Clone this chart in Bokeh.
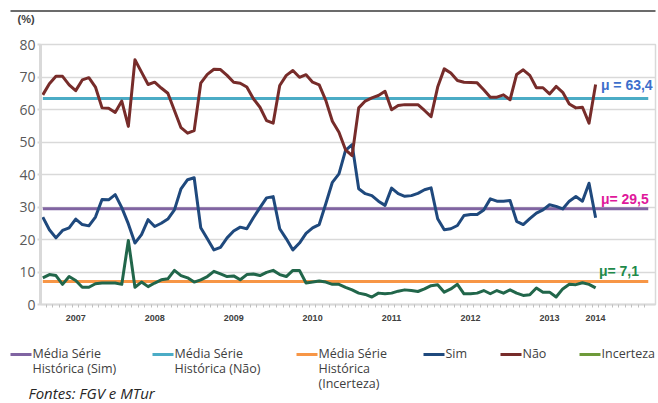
from bokeh.plotting import figure
from bokeh.models import Range1d, FixedTicker, Label
from bokeh.core.properties import value
from bokeh.layouts import column
from bokeh.embed import file_html
from bokeh.resources import INLINE

# ---------------- data ----------------
months = list(range(85))          # monthly observations (index)
axis_months = list(range(93))     # category slots on the axis
sim = [26.9, 23.0, 20.5, 22.8, 23.6, 26.3, 24.6, 24.2, 26.9, 32.3,
       32.2, 33.8, 29.8, 24.8, 18.9, 21.5, 26.1, 24.0, 25.0, 26.3,
       29.1, 35.6, 38.4, 39.0, 23.6, 20.2, 16.8, 17.6, 20.5, 22.6,
       23.8, 23.3, 26.7, 29.8, 32.8, 33.2, 23.3, 20.2, 16.8, 18.9,
       21.9, 23.6, 24.6, 31.0, 37.6, 40.2, 47.4, 49.2, 35.6, 34.1,
       33.5, 31.8, 30.5, 35.8, 34.1, 33.3, 33.5, 34.2, 35.3, 35.9,
       26.4, 23.0, 23.3, 24.3, 27.4, 27.7, 27.7, 29.1, 32.5, 31.8,
       31.8, 32.0, 25.6, 24.6, 26.4, 28.1, 29.1, 30.7, 30.2, 29.4,
       31.8, 33.2, 31.8, 37.3, 26.7]
nao = [64.5, 67.9, 70.2, 70.2, 67.6, 65.8, 69.1, 69.8, 66.9, 60.5,
       60.4, 59.1, 62.6, 54.8, 75.3, 71.5, 67.7, 68.4, 66.6, 65.0,
       59.7, 54.4, 52.7, 53.5, 68.1, 70.8, 72.4, 72.3, 70.5, 68.4,
       68.1, 66.9, 63.3, 60.7, 56.6, 55.8, 67.4, 70.5, 72.0, 69.9,
       70.7, 68.4, 67.6, 62.8, 56.4, 53.0, 47.6, 45.8, 60.5, 62.6,
       63.6, 64.3, 65.6, 59.9, 61.2, 61.5, 61.5, 61.5, 59.7, 57.8,
       66.9, 72.5, 71.2, 68.9, 68.4, 68.3, 68.2, 66.1, 63.8, 63.8,
       64.5, 63.0, 70.8, 72.2, 70.5, 66.7, 66.7, 64.8, 67.1, 65.3,
       61.7, 60.5, 60.7, 55.8, 67.7]
incerteza = [8.2, 9.2, 8.9, 6.2, 8.6, 7.4, 5.3, 5.3, 6.4, 6.6,
             6.6, 6.6, 6.2, 19.7, 5.3, 6.9, 5.5, 6.6, 7.6, 7.9,
             10.5, 8.9, 8.2, 6.9, 7.6, 8.6, 10.2, 9.4, 8.6, 8.8,
             7.6, 9.2, 9.4, 8.9, 9.9, 10.5, 9.2, 8.6, 10.5, 10.5,
             6.6, 6.9, 7.2, 6.9, 6.2, 6.2, 5.3, 4.5, 3.5, 3.1,
             2.3, 3.5, 3.3, 3.5, 4.1, 4.5, 4.3, 4.0, 4.8, 5.8,
             6.1, 3.8, 4.8, 6.2, 3.3, 3.3, 3.5, 4.3, 3.3, 4.3,
             3.5, 4.5, 3.5, 2.8, 3.0, 5.1, 3.8, 3.8, 2.3, 4.8,
             6.2, 6.1, 6.7, 6.2, 5.1]
media_sim = 29.5
media_nao = 63.4
media_inc = 7.1
year_labels = ["2007", "2008", "2009", "2010", "2011", "2012", "2013", "2014"]
year_label_month = [5, 17, 29, 41, 53, 65, 77, 84]
y_ticks = [0, 10, 20, 30, 40, 50, 60, 70, 80]
legend_labels = ["Média Série\nHistórica (Sim)", "Média Série\nHistórica (Não)",
                 "Média Série\nHistórica\n(Incerteza)", "Sim", "Não", "Incerteza"]

# ---------------- colours ----------------
C_SIM = "#1F497D"
C_NAO = "#772C2A"
C_INC = "#21664A"
C_INC_LEG = "#6E9A3A"
C_MSIM = "#8064A2"
C_MNAO = "#4BACC6"
C_MINC = "#F79646"
GRID = "#D9D9D9"
TXT = "#595959"

W = 658
TH = 30   # header strip
PH = 300  # main plot
LH = 73   # legend strip


def strip(h):
    f = figure(width=W, height=h, output_backend="svg", toolbar_location=None,
               x_range=Range1d(0, W), y_range=Range1d(h, 0),
               x_axis_type=None, y_axis_type=None, min_border=0)
    f.outline_line_color = None
    f.grid.visible = False
    f.background_fill_color = "white"
    f.border_fill_color = "white"
    f.frame_align = False
    return f


# ---------------- header: rule + unit ----------------
top = strip(TH)
top.line([10, 655], [10.5, 10.5], line_color="#6B6B6B", line_width=2)
top.add_layout(Label(x=17, y=18, text="(%)", text_color="#404040",
                     text_font="Liberation Sans", text_font_style="bold",
                     text_font_size="11px", text_baseline="middle"))

# ---------------- main chart ----------------
p = figure(width=W, height=PH, output_backend="svg", toolbar_location=None,
           x_range=Range1d(-0.35, 93.1), y_range=Range1d(0, 80),
           min_border_left=40, min_border_right=3, min_border_top=14,
           min_border_bottom=26)
p.frame_align = False
p.background_fill_color = "white"
p.border_fill_color = "white"
p.outline_line_color = GRID
p.outline_line_width = 1.5

# mean lines (first, like the original series order)
span_x = [axis_months[0], axis_months[-1]]
p.line(span_x, [media_sim] * 2, line_color=C_MSIM, line_width=3)
p.line(span_x, [media_nao] * 2, line_color=C_MNAO, line_width=3)
p.line(span_x, [media_inc] * 2, line_color=C_MINC, line_width=3)

p.line(months, sim, line_color=C_SIM, line_width=3, line_join="round")
p.line(months, nao, line_color=C_NAO, line_width=3, line_join="round")
p.line(months, incerteza, line_color=C_INC, line_width=3, line_join="round")

# axes
p.xgrid.grid_line_color = None
p.ygrid.grid_line_color = GRID
p.ygrid.grid_line_width = 1.5
p.yaxis.ticker = FixedTicker(ticks=y_ticks)
p.yaxis.axis_line_color = GRID
p.yaxis.axis_line_width = 3
p.yaxis.major_tick_line_color = GRID
p.yaxis.major_tick_line_width = 2
p.yaxis.major_tick_out = 3
p.yaxis.major_tick_in = 0
p.yaxis.minor_tick_line_color = None
p.yaxis.major_label_standoff = 2
p.yaxis.major_label_text_font = "Open Sans"
p.yaxis.major_label_text_font_size = "14px"
p.yaxis.major_label_text_color = TXT

p.xaxis.ticker = FixedTicker(ticks=year_label_month,
                             minor_ticks=[m + 0.5 for m in axis_months[:-1]])
p.xaxis.major_label_overrides = {m: lab for m, lab in zip(year_label_month, year_labels)}
p.xaxis.axis_line_color = GRID
p.xaxis.axis_line_width = 2
p.xaxis.major_tick_line_color = None
p.xaxis.minor_tick_line_color = "#BFBFBF"
p.xaxis.minor_tick_line_width = 1
p.xaxis.minor_tick_out = 3
p.xaxis.minor_tick_in = 0
p.xaxis.major_label_standoff = 4
p.xaxis.major_label_text_font = "Liberation Sans"
p.xaxis.major_label_text_font_style = "bold"
p.xaxis.major_label_text_font_size = "9px"
p.xaxis.major_label_text_color = "#404040"

# mean annotations
p.add_layout(Label(x=84.8, y=67.4, text="\u03bc = 63,4", text_color="#3D6FCB",
                   text_font="Liberation Sans", text_font_style="bold",
                   text_font_size="14px", text_baseline="middle"))
p.add_layout(Label(x=84.8, y=32.6, text="\u03bc= 29,5", text_color="#E0189B",
                   text_font="Liberation Sans", text_font_style="bold",
                   text_font_size="14px", text_baseline="middle"))
p.add_layout(Label(x=84.5, y=10.2, text="\u03bc= 7,1", text_color="#1E8A4A",
                   text_font="Liberation Sans", text_font_style="bold",
                   text_font_size="14px", text_baseline="middle"))

# ---------------- legend + source strip ----------------
leg = strip(LH)
leg_colors = [C_MSIM, C_MNAO, C_MINC, C_SIM, C_NAO, C_INC_LEG]
leg_swatch_x = [10, 152, 296, 423, 500, 579]   # layout positions (px)
SW = 21            # swatch length
ROW0, ROWH = 23, 15
for lab, col, sx in zip(legend_labels, leg_colors, leg_swatch_x):
    leg.line([sx, sx + SW], [ROW0 + 1, ROW0 + 1], line_color=col, line_width=3)
    lines = lab.split("\n")
    leg.text(x=[sx + SW + 1] * len(lines),
             y=[ROW0 + ROWH * k for k in range(len(lines))],
             text=lines, text_font=value("Open Sans"), text_font_size="12.5px",
             text_color="#404040", text_baseline="middle", text_align="left")

leg.add_layout(Label(x=28, y=62, text="Fontes: FGV e MTur", text_color="#262626",
                     text_font="Open Sans", text_font_style="italic",
                     text_font_size="15px", text_baseline="middle"))

layout = column(top, p, leg, spacing=0)
open("out.html", "w").write(file_html(layout, INLINE))
